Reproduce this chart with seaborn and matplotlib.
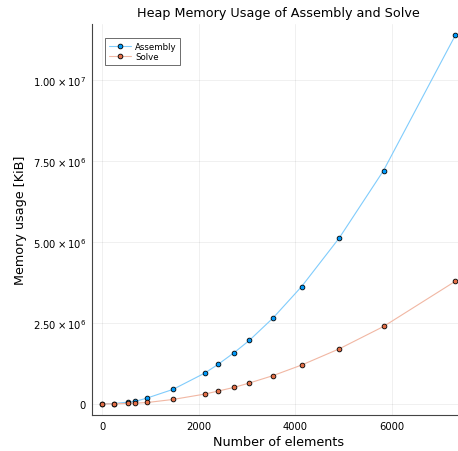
import numpy as np
import pandas as pd
import matplotlib
matplotlib.use("Agg")
import matplotlib.pyplot as plt
import matplotlib.ticker as mticker
import seaborn as sns

# Mesh sizes and measured heap usage (KiB)
n_elements = [0, 240, 538, 689, 937, 1469, 2123, 2400, 2731, 3048, 3538, 4130, 4910, 5827, 7316]
assembly_kib = [3.0e3, 1.3e4, 5.6e4, 8.0e4, 1.85e5, 4.5e5, 9.5e5, 1.22e6, 1.58e6, 1.96e6,
                2.65e6, 3.62e6, 5.12e6, 7.20e6, 1.138e7]
solve_kib = [1.0e3, 4.0e3, 1.6e4, 2.4e4, 4.5e4, 1.39e5, 3.04e5, 3.97e5, 5.11e5, 6.45e5,
             8.74e5, 1.20e6, 1.70e6, 2.39e6, 3.787e6]
series_names = ["Assembly", "Solve"]
y_ticks = [0, 2.5e6, 5.0e6, 7.5e6, 1.0e7]
x_ticks = [0, 2000, 4000, 6000]

df = pd.DataFrame({
    "elements": n_elements * 2,
    "memory": assembly_kib + solve_kib,
    "series": [series_names[0]] * len(n_elements) + [series_names[1]] * len(n_elements),
})

sns.set_style("white")
plt.rcParams["font.family"] = ["DejaVu Sans"]
plt.rcParams["mathtext.fontset"] = "dejavusans"
plt.rcParams["text.color"] = "black"
plt.rcParams["axes.labelcolor"] = "black"

fig = plt.figure(figsize=(4.58, 4.52), dpi=100)
ax = fig.add_axes([0.1998, 0.0796, 0.8177, 0.865])

fill_colors = {"Assembly": "#009AFA", "Solve": "#E36F47"}
line_colors = {"Assembly": "#80CCFC", "Solve": "#F1B7A3"}

for name in series_names:
    sns.lineplot(data=df[df["series"] == name], x="elements", y="memory", ax=ax,
                 color=line_colors[name], linewidth=0.8, marker="o", markersize=3.4,
                 markerfacecolor=fill_colors[name], markeredgecolor="black",
                 markeredgewidth=0.6, label=name, clip_on=False)

xmax = max(n_elements)
ymax = max(assembly_kib)
ax.set_xlim(-0.03 * xmax, 1.03 * xmax)
ax.set_ylim(-0.03 * ymax, 1.03 * ymax)
ax.set_xticks(x_ticks)
ax.set_yticks(y_ticks)


def sci_fmt(v, _pos):
    if v == 0:
        return "0"
    e = int(np.floor(np.log10(abs(v))))
    m = v / 10 ** e
    return r"$%.2f\times10^{%d}$" % (m, e)


ax.yaxis.set_major_formatter(mticker.FuncFormatter(sci_fmt))
ax.grid(True, color="#000000", alpha=0.07, linewidth=0.6)
for side in ["top", "right"]:
    ax.spines[side].set_visible(False)
for side in ["left", "bottom"]:
    ax.spines[side].set_color("#444444")
    ax.spines[side].set_linewidth(0.8)
ax.tick_params(direction="in", length=3, width=0.6, color="#444444",
               labelsize=7.2, labelcolor="black", pad=4)

ax.set_xlabel("Number of elements", fontsize=9.2, labelpad=3)
ax.set_ylabel("Memory usage [KiB]", fontsize=9.2, labelpad=4)
ax.set_title("Heap Memory Usage of Assembly and Solve", fontsize=9.2, pad=6)

leg = ax.legend(loc="upper left", fontsize=6.2, frameon=True, fancybox=False,
                edgecolor="#555555", framealpha=1, borderpad=0.4,
                handlelength=2.6, handletextpad=0.5, labelspacing=0.2,
                bbox_to_anchor=(0.025, 0.975))
leg.get_frame().set_linewidth(0.6)

fig.savefig("out.png", dpi=100)
